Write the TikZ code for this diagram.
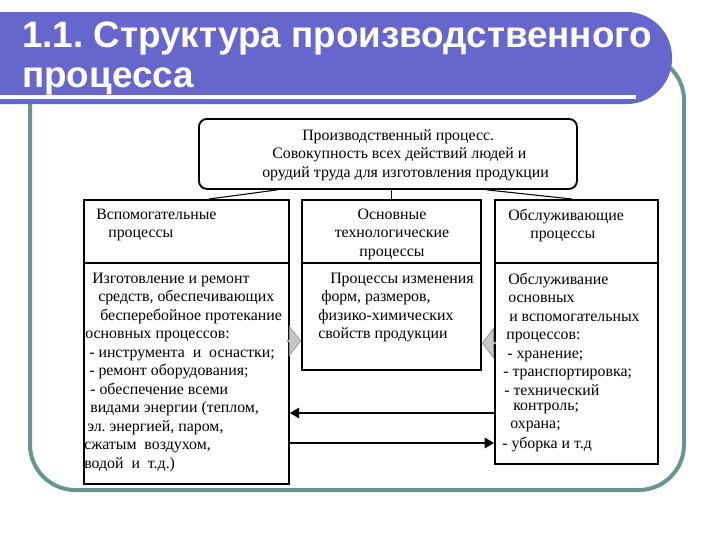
\documentclass[tikz,border=0pt]{standalone}
\usepackage{fontspec}
\setmainfont{Liberation Serif}
\newfontfamily\titlefont{Liberation Sans}
\usetikzlibrary{arrows.meta,positioning,shapes.arrows}
\definecolor{bannerblue}{HTML}{6666CC}
\definecolor{frameteal}{HTML}{66968F}
\frenchspacing

\begin{document}
\begin{tikzpicture}[
  x=0.75pt, y=-0.75pt,
  panel/.style={draw,line width=1.4pt,inner sep=0pt,anchor=north west},
  txt/.style={inner sep=0pt,anchor=north west,align=left,font=\fontsize{11.9}{13.9}\selectfont},
  title/.style={text=white,inner sep=0pt,anchor=base west,font=\titlefont\bfseries\fontsize{27.6}{30}\selectfont},
  link/.style={line width=0.8pt},
  flow/.style={-{Triangle[length=7pt,width=8pt]},line width=0.8pt},
  blockarrow/.style={single arrow,draw=gray!85,fill=gray!45,line width=0.5pt,inner sep=0pt,minimum height=10pt,minimum width=22pt,single arrow head extend=4pt,single arrow tip angle=105}
]
\useasboundingbox (0,0) rectangle (720,540);
\fill[white] (0,0) rectangle (720,540);

% frame and title banner
\draw[frameteal,line width=3pt,rounded corners=34pt] (30,55) rectangle (684,490);
\fill[bannerblue,rounded corners=34pt] (-80,12) rectangle (672,104);
\draw[white,line width=2.3pt] (0,97) -- (636,97);
\node[title] (heading) at (22,47) {1.1. Структура производственного};
\node[title] (headingb) at (22,87) {процесса};

% boxes
\node[panel,rounded corners=6pt,minimum width=283.5pt,minimum height=52.5pt] (process) at (198,118) {};
\node[panel,minimum width=153.75pt,minimum height=213pt] (aux) at (83,199) {};
\node[panel,minimum width=134.25pt,minimum height=127.5pt] (main) at (301,199) {};
\node[panel,minimum width=122.25pt,minimum height=198pt] (service) at (494,199) {};
\draw[link] (aux.west |- 0,263) -- (aux.east |- 0,263);
\draw[link] (main.west |- 0,263) -- (main.east |- 0,263);
\draw[link] (service.west |- 0,263) -- (service.east |- 0,263);

% texts
\node[txt] (processtxt) at (262,129) {\hspace*{30pt}Производственный процесс.\\
  \hspace*{7.5pt}Совокупность всех действий людей и\\
  орудий труда для изготовления продукции};
\node[txt] (auxhead) at (96,208.4) {Вспомогательные\\\hspace*{9pt}процессы};
\node[txt,anchor=north,align=center] (mainhead) at (392,208.4) {Основные\\технологические\\процессы};
\node[txt] (servicehead) at (508,208.4) {Обслуживающие\\\hspace*{16.5pt}процессы};
\node[txt] (auxbody) at (84,272.5) {\hspace*{6pt}Изготовление и ремонт\\
  \hspace*{10.5pt}средств, обеспечивающих\\
  \hspace*{12pt}бесперебойное протекание\\
  \hspace*{0.75pt}основных процессов:\\
  \hspace*{3.75pt}- инструмента~ и~ оснастки;\\
  \hspace*{3.75pt}- ремонт оборудования;\\
  \hspace*{4.5pt}- обеспечение всеми\\
  \hspace*{4.5pt}видами энергии (теплом,\\
  \hspace*{2.25pt}эл. энергией, паром,\\
  сжатым~ воздухом,\\
  водой~ и~ т.д.)};
\node[txt] (mainbody) at (318,272.5) {\hspace*{9pt}Процессы изменения\\
  \hspace*{2.25pt}форм, размеров,\\
  физико-химических\\
  свойств продукции};
\node[txt] (servicebody) at (502,272.5) {\hspace*{4.5pt}Обслуживание\\
  \hspace*{4.5pt}основных\\
  \hspace*{5.25pt}и вспомогательных\\
  \hspace*{3pt}процессов:\\
  \hspace*{3.75pt}- хранение;\\
  \hspace*{0.75pt}- транспортировка;\\
  \hspace*{1.5pt}- технический\\[-2.6pt]
  \hspace*{8.25pt}контроль;\\
  \hspace*{6pt}охрана;\\[1.1pt]
  - уборка и т.д};

% connectors
\draw[link] (process.198) -- (aux.81);
\draw[link] (main.north) -- (main.north |- process.south);
\draw[link] (process.340) -- (service.92);
\node[blockarrow,anchor=tip] (toMain) at (main.west |- 0,341) {};
\node[blockarrow,shape border rotate=180,anchor=tip] (fromService) at (main.east |- 0,343) {};
\draw[flow] (service.west |- 0,413) -- (aux.east |- 0,413);
\draw[flow] (aux.east |- 0,443) -- (service.west |- 0,443);
\end{tikzpicture}
\end{document}
